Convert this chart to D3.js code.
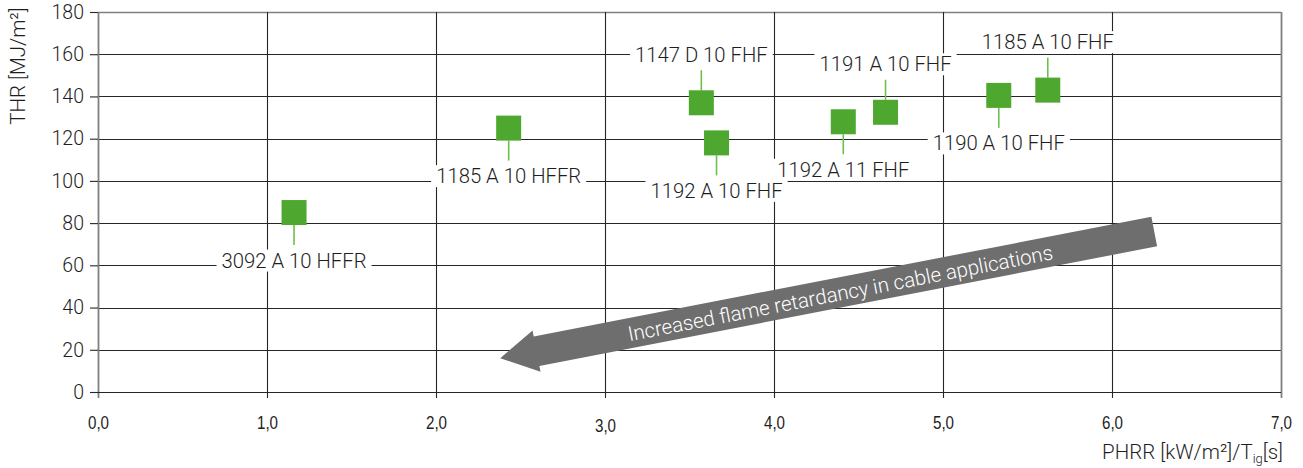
<!DOCTYPE html>
<html><head><meta charset="utf-8">
<script src="https://cdn.jsdelivr.net/npm/d3@7"></script>
<style>
html,body{margin:0;padding:0;background:#fff;}
svg{display:block;}
</style></head>
<body>
<svg id="chart" width="1303" height="468"></svg>
<script>
// ---- data ----
const labels = ["3092 A 10 HFFR","1185 A 10 HFFR","1147 D 10 FHF","1192 A 10 FHF","1192 A 11 FHF","1191 A 10 FHF","1190 A 10 FHF","1185 A 10 FHF"];
const phrr   = [1.16, 2.43, 3.57, 3.66, 4.41, 4.66, 5.33, 5.62];
const thr    = [85, 125, 137, 118, 128, 132.5, 140.5, 143];
const labelSide = ["below","below","above","below","below","above","below","above"];
const xTicks = [0,1,2,3,4,5,6,7];
const xTickLabels = ["0,0","1,0","2,0","3,0","4,0","5,0","6,0","7,0"];
const yTicks = [0,20,40,60,80,100,120,140,160,180];
const arrowFrom = [6.25, 76];
const arrowTo = [2.38, 16];
const arrowText = "Increased flame retardancy in cable applications";

// ---- layout ----
const W = 1303, H = 468;
const m = {left: 98, right: 22, top: 12, bottom: 76};
const svg = d3.select("#chart");
const x = d3.scaleLinear().domain([0,7]).range([m.left, W - m.right]);
const y = d3.scaleLinear().domain([0,180]).range([H - m.bottom, m.top]);
const font = "Roboto, 'Liberation Sans', Arial, sans-serif";
const textCol = "#1e1e1e";

// grid
const g = svg.append("g");
g.selectAll("line.h").data(yTicks).join("line")
  .attr("x1", x(0)).attr("x2", x(7))
  .attr("y1", d => Math.round(y(d)) + 0.5).attr("y2", d => Math.round(y(d)) + 0.5)
  .attr("stroke", d => d === 180 ? "#808080" : "#262626").attr("stroke-width", d => d === 180 ? 1.6 : 1.1);
g.selectAll("line.v").data(xTicks).join("line")
  .attr("x1", d => Math.round(x(d)) + 0.5).attr("x2", d => Math.round(x(d)) + 0.5)
  .attr("y1", y(180)).attr("y2", y(0) + 6)
  .attr("stroke", d => (d === 0 || d === 7) ? "#808080" : "#262626")
  .attr("stroke-width", d => (d === 0 || d === 7) ? 1.8 : 1.1);

// y axis ticks and labels
const yAxis = d3.axisLeft(y).tickValues(yTicks).tickSize(8).tickPadding(6).tickFormat(d3.format("d"));
const ya = svg.append("g").attr("transform", `translate(${m.left},0)`).call(yAxis);
ya.select(".domain").remove();
ya.selectAll(".tick line").attr("stroke", "#262626").attr("stroke-width", 1.1);
ya.selectAll(".tick text").attr("font-family", font).attr("font-weight", 300)
  .attr("font-size", 19.5).attr("fill", textCol);

// x axis labels (condensed)
const xAxis = d3.axisBottom(x).tickValues(xTicks).tickSize(0).tickFormat((d,i) => xTickLabels[i]);
const xa = svg.append("g").attr("transform", `translate(0,${y(0)})`).call(xAxis);
xa.select(".domain").remove();
xa.selectAll(".tick text")
  .attr("font-family", "'Liberation Sans', Arial, sans-serif")
  .attr("font-size", 18.5).attr("fill", textCol)
  .attr("y", 0).attr("dy", 0)
  .attr("transform", (d,i) => `translate(0,${xTickLabels[i] === "3,0" ? 40 : 37}) scale(0.82,1)`);

// x-axis baseline
svg.append("line").attr("x1", x(0)).attr("x2", x(7))
  .attr("y1", Math.round(y(0)) + 0.5).attr("y2", Math.round(y(0)) + 0.5)
  .attr("stroke", "#262626").attr("stroke-width", 1.2);

// axis titles
const xt = svg.append("text").attr("x", x(7) + 2).attr("y", 459).attr("text-anchor", "end")
  .attr("font-family", font).attr("font-weight", 300).attr("font-size", 20.5).attr("fill", textCol);
xt.append("tspan").attr("fill", textCol).text("PHRR [kW/m²]/T");
xt.append("tspan").attr("fill", textCol).attr("font-size", 13).attr("dy", 4).text("ig");
xt.append("tspan").attr("fill", textCol).attr("dy", -4).text("[s]");

svg.append("text").attr("transform", "translate(25,66) rotate(-90)")
  .attr("text-anchor", "middle")
  .attr("font-family", font).attr("font-weight", 300).attr("font-size", 20.5).attr("fill", textCol)
  .text("THR [MJ/m²]");

// arrow annotation
{
  const x0 = x(arrowFrom[0]), y0 = y(arrowFrom[1]);
  const x1 = x(arrowTo[0]), y1 = y(arrowTo[1]);
  const len = Math.hypot(x1 - x0, y1 - y0);
  const ang = Math.atan2(y1 - y0, x1 - x0) * 180 / Math.PI;
  const sw = 15, hw = 21, hl = 37;
  const pts = [[0,-sw],[len-hl,-sw],[len-hl,-hw],[len,0],[len-hl,hw],[len-hl,sw],[0,sw]];
  const ag = svg.append("g").attr("transform", `translate(${x0},${y0}) rotate(${ang})`);
  ag.append("polygon").attr("points", pts.map(p => p.join(",")).join(" ")).attr("fill", "#6e6e6e");
  const t = 0.48;
  const cx = x0 + (x1 - x0) * t, cy = y0 + (y1 - y0) * t;
  svg.append("text").attr("transform", `translate(${cx},${cy + 1}) rotate(${ang - 180})`)
    .attr("text-anchor", "middle").attr("dominant-baseline", "central")
    .attr("font-family", font).attr("font-weight", 300).attr("font-size", 20.5).attr("fill", "#ffffff")
    .text(arrowText);
}

// points data
const pts = labels.map((l,i) => ({label: l, x: phrr[i], y: thr[i], side: labelSide[i]}));
const sq = 25, lead = 20, off = 48;

// leader lines
svg.selectAll("line.leader").data(pts).join("line")
  .attr("x1", d => x(d.x)).attr("x2", d => x(d.x))
  .attr("y1", d => y(d.y) + (d.side === "below" ? sq/2 : -sq/2))
  .attr("y2", d => y(d.y) + (d.side === "below" ? sq/2 + lead : -sq/2 - lead))
  .attr("stroke", "#6cc04a").attr("stroke-width", 1.6);

// labels with white boxes
const lg = svg.selectAll("g.lab").data(pts).join("g")
  .attr("transform", d => `translate(${x(d.x)},${y(d.y) + (d.side === "below" ? off : -off)})`);
const lt = lg.append("text").attr("text-anchor", "middle").attr("dominant-baseline", "central")
  .attr("font-family", font).attr("font-weight", 300).attr("font-size", 20.3).attr("fill", textCol)
  .text(d => d.label);
lt.each(function() {
  const b = this.getBBox();
  d3.select(this.parentNode).insert("rect", "text")
    .attr("x", b.x - 5).attr("y", b.y + 1).attr("width", b.width + 10).attr("height", b.height - 2)
    .attr("fill", "#fff");
});

// squares
svg.selectAll("rect.pt").data(pts).join("rect")
  .attr("x", d => x(d.x) - sq/2).attr("y", d => y(d.y) - sq/2)
  .attr("width", sq).attr("height", sq).attr("fill", "#4ea72e");
</script>
</body></html>
